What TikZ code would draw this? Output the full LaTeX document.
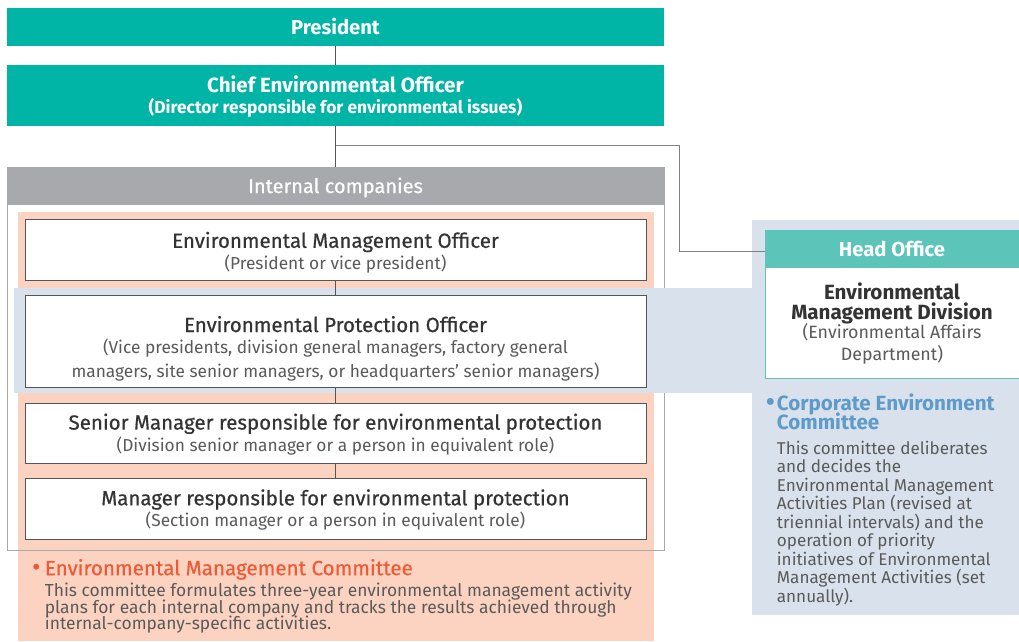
\documentclass[tikz,border=0pt]{standalone}
\usepackage{fontspec}
\setmainfont{Fira Sans}
\newfontfamily\fmedf{Fira Sans}[FakeBold=0.5]
\newcommand\fmed{\fmedf}
\newcommand\fsemi{\bfseries}
\definecolor{tealc}{HTML}{00B5A5}
\definecolor{tealh}{HTML}{5CC4B9}
\definecolor{grayh}{HTML}{A7A9AC}
\definecolor{salmon}{HTML}{FCD3C1}
\definecolor{bluebg}{HTML}{D9E2EC}
\definecolor{linec}{HTML}{555555}
\definecolor{titlec}{HTML}{333333}
\definecolor{subc}{HTML}{5A5A5A}
\definecolor{orangec}{HTML}{EE5A36}
\definecolor{bluet}{HTML}{5E9BC9}
% box title line with a strut of height #1, and a parenthesised sub line
\newcommand\ttl[1]{\color{titlec}\fmed\fontsize{20.5}{21.5}\selectfont\rule{0pt}{#1pt}}
\newcommand\sbt{\color{subc}\fontsize{17.3}{21.5}\selectfont}
\newcommand\bigdot{\fontsize{25}{25}\selectfont\textbullet}
\newcommand\cbody{\color{subc}\fontsize{17.1}{18.5}\selectfont\hspace*{10.7pt}}
\begin{document}
\lineskiplimit=-100pt \lineskip=0pt
\begin{tikzpicture}[x=1pt,y=-1pt,
  teal/.style={fill=tealc,draw=none,text=white,inner sep=0pt},
  rolebox/.style={draw=linec,line width=0.8pt,fill=white,inner sep=0pt,align=center,
    font=\fontsize{17.3}{21.5}\selectfont,minimum width=621pt},
  link/.style={draw=linec,line width=0.8pt}]
\useasboundingbox (0,0) rectangle (1019,641);
\fill[white] (0,0) rectangle (1019,641);
% coloured backgrounds and the internal companies frame
\fill[salmon] (18,212) rectangle (654,641);
\fill[bluebg] (752,220) rectangle (1019,615);
\draw[grayh,line width=0.8pt] (7,167) rectangle (664,550);
\fill[bluebg] (14,288.3) rectangle (752,393.3);
\node[fill=grayh,inner sep=0pt,minimum width=657pt,minimum height=38pt,text=white,
  font=\fmed\fontsize{20}{21}\selectfont] (ic) at (335.5,185.7) {\rule{0pt}{19pt}Internal companies};
% top of the hierarchy
\node[teal,minimum width=657pt,minimum height=37.7pt,font=\fsemi\fontsize{20.2}{21}\selectfont] (pres) at (335.5,26.8) {President};
\node[teal,minimum width=657pt,minimum height=60.7pt,align=center,font=\fontsize{17.4}{20.6}\selectfont] (ceo) at (335.5,95.3)
  {\fsemi\fontsize{20.6}{20.6}\selectfont\rule{0pt}{19.4pt}Chief Environmental Officer\\\fsemi\fontsize{17.4}{20.6}\selectfont (Director responsible for environmental issues)};
% officers inside the internal companies
\node[rolebox,minimum height=61pt] (emo) at (335.5,249.5)
  {\ttl{21.8}Environmental Management Officer\\\sbt (President or vice president)};
\node[rolebox,minimum height=92pt] (epo) at (335.5,341.7)
  {\ttl{30.1}Environmental Protection Officer\\\sbt (Vice presidents, division general managers, factory general\\[2.8pt]\sbt managers, site senior managers, or headquarters' senior managers)};
\node[rolebox,minimum height=60pt] (smr) at (335.5,433.3)
  {\ttl{17.8}Senior Manager responsible for environmental protection\\\sbt (Division senior manager or a person in equivalent role)};
\node[rolebox,minimum height=60.7pt] (mgr) at (335.5,508.7)
  {\ttl{18.4}Manager responsible for environmental protection\\\sbt (Section manager or a person in equivalent role)};
% head office
\node[draw=tealh,line width=0.8pt,fill=white,minimum width=254pt,minimum height=147.6pt,inner sep=0pt] (hob) at (892,304.5) {};
\node[fill=tealh,inner sep=0pt,minimum width=254pt,minimum height=37.6pt,text=white,
  text height=13pt,text depth=0pt,font=\fsemi\fontsize{20.2}{21}\selectfont] (ho) at (892,249.5) {Head Office};
\node[anchor=north,align=center,inner sep=0pt,font=\fontsize{17}{20.3}\selectfont] (emd) at (892,279)
  {\color{titlec}\fsemi\fontsize{20.6}{21}\selectfont\rule{0pt}{20pt}Environmental\\
   \color{titlec}\fsemi\fontsize{20.6}{21}\selectfont Management Division\\[-1.3pt]
   \color{subc}\fontsize{17.8}{21}\selectfont (Environmental Affairs\\[1.4pt]
   \color{subc}\fontsize{17.8}{21}\selectfont Department)};
% reporting lines
\draw[link] (pres) -- (ceo);
\draw[link] (ceo) -- (ic);
\coordinate (br) at (335.5,145.7);
\coordinate (bend) at (679,251);
\draw[link,draw=linec!75] (br) -| (bend) -- (hob.west |- bend);
\draw[link] (emo) -- (epo);
\draw[link] (epo) -- (smr);
\draw[link] (smr) -- (mgr);
% committees
\node[anchor=north west,align=left,inner sep=0pt,font=\fontsize{17.4}{16.5}\selectfont] (emc) at (32,555)
  {\color{orangec}\fmed\fontsize{20.6}{21}\selectfont\rule{0pt}{20pt}\makebox[12.7pt][l]{\bigdot}Environmental Management Committee\\[5.2pt]
   \color{subc}\fontsize{17.4}{16.5}\selectfont\hspace*{12.7pt}This committee formulates three-year environmental management activity\\
   \color{subc}\fontsize{17.4}{16.5}\selectfont\hspace*{12.7pt}plans for each internal company and tracks the results achieved through\\
   \color{subc}\fontsize{17.4}{16.5}\selectfont\hspace*{12.7pt}internal-company-specific activities.};
\node[anchor=north west,align=left,inner sep=0pt,font=\fontsize{17.1}{18.5}\selectfont] (cec) at (766,390)
  {\color{bluet}\fsemi\fontsize{20.6}{21}\selectfont\rule{0pt}{20pt}\makebox[10.7pt][l]{\bigdot}Corporate Environment\\[0.5pt]
   \color{bluet}\fsemi\fontsize{20.6}{21}\selectfont\hspace*{10.7pt}Committee\\[6.5pt]
   \cbody This committee deliberates\\
   \cbody and decides the\\
   \cbody Environmental Management\\
   \cbody Activities Plan (revised at\\
   \cbody triennial intervals) and the\\
   \cbody operation of priority\\
   \cbody initiatives of Environmental\\
   \cbody Management Activities (set\\
   \cbody annually).};
\end{tikzpicture}
\end{document}
